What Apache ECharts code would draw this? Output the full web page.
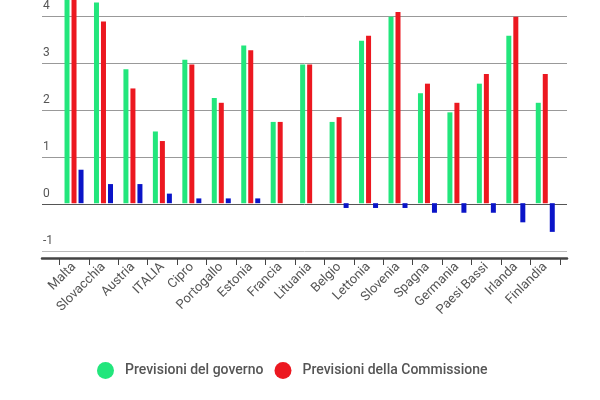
<!DOCTYPE html>
<html>
<head>
<meta charset="utf-8">
<script src="https://cdn.jsdelivr.net/npm/echarts@6/dist/echarts.min.js"></script>
<style>html,body{margin:0;padding:0;background:#fff}#c{width:600px;height:400px}</style>
</head>
<body>
<div id="c"></div>
<script>
var categories = ['Malta','Slovacchia','Austria','ITALIA','Cipro','Portogallo','Estonia','Francia','Lituania','Belgio','Lettonia','Slovenia','Spagna','Germania','Paesi Bassi','Irlanda','Finlandia'];
var governo =     [5.0, 4.2, 2.8, 1.5, 3.0, 2.2, 3.3, 1.7, 2.9, 1.7, 3.4, 3.9, 2.3, 1.9, 2.5, 3.5, 2.1];
var commissione = [4.3, 3.8, 2.4, 1.3, 2.9, 2.1, 3.2, 1.7, 2.9, 1.8, 3.5, 4.0, 2.5, 2.1, 2.7, 3.9, 2.7];
var differenza =  [0.7, 0.4, 0.4, 0.2, 0.1, 0.1, 0.1, 0.0, 0.0, -0.1, -0.1, -0.1, -0.2, -0.2, -0.2, -0.4, -0.6];
var yMin = -1, yMax = 4.25, yStep = 1;

var chart = echarts.init(document.getElementById('c'));
var font = 'Roboto, sans-serif';
chart.setOption({
  animation: false,
  textStyle: {fontFamily: font},
  legend: {
    data: ['Previsioni del governo', 'Previsioni della Commissione'],
    left: 92, top: 357,
    icon: 'circle', itemWidth: 17, itemHeight: 17, itemGap: 11,
    textStyle: {fontSize: 14, fontWeight: 500, color: '#555', fontFamily: font, padding: [0,0,0,6]}
  },
  grid: [
    {left: 59.3, right: 40, top: 0, bottom: 149},
    {left: 42, right: 33, top: 0, bottom: 149}
  ],
  xAxis: [
    {
      gridIndex: 0, type: 'category', data: categories,
      offset: 7,
      axisLine: {show: false, onZero: false},
      axisTick: {show: true, length: 7, lineStyle: {color: '#444', width: 1}},
      axisLabel: {rotate: 45, fontSize: 13, color: '#555', margin: 7, fontFamily: font, interval: 0},
      splitLine: {show: false}
    },
    {
      gridIndex: 1, type: 'value', min: 0, max: 1,
      offset: 7,
      axisLine: {show: true, onZero: false, lineStyle: {color: '#444', width: 2.5}},
      axisTick: {show: false}, axisLabel: {show: false}, splitLine: {show: false}
    }
  ],
  yAxis: [
    {
      gridIndex: 0, type: 'value', min: yMin, max: yMax, interval: yStep,
      axisLine: {show: false}, axisTick: {show: false}, axisLabel: {show: false}, splitLine: {show: false}
    },
    {
      gridIndex: 1, type: 'value', min: yMin, max: yMax, interval: yStep,
      axisLine: {show: false}, axisTick: {show: false},
      axisLabel: {inside: true, margin: 1, verticalAlign: 'bottom', padding: [0,0,4,0], fontSize: 12, color: '#555', fontFamily: font,
        showMaxLabel: false,
        formatter: function (v) { return Number.isInteger(v) ? String(v) : ''; }},
      splitLine: {show: true, lineStyle: {color: ['#bbb','#555','#999','#999','#999','#999','rgba(0,0,0,0)'], width: 1}}
    }
  ],
  series: [
    {name: 'Previsioni del governo', type: 'bar', xAxisIndex: 0, yAxisIndex: 0, data: governo, barWidth: 5, barGap: '40%', itemStyle: {color: '#22e67c'}},
    {name: 'Previsioni della Commissione', type: 'bar', xAxisIndex: 0, yAxisIndex: 0, data: commissione, barWidth: 5, barGap: '40%', itemStyle: {color: '#ec1820'}},
    {name: 'Differenza', type: 'bar', xAxisIndex: 0, yAxisIndex: 0, data: differenza, barWidth: 5, barGap: '40%', itemStyle: {color: '#0a14c8'}}
  ]
});
</script>
</body>
</html>
